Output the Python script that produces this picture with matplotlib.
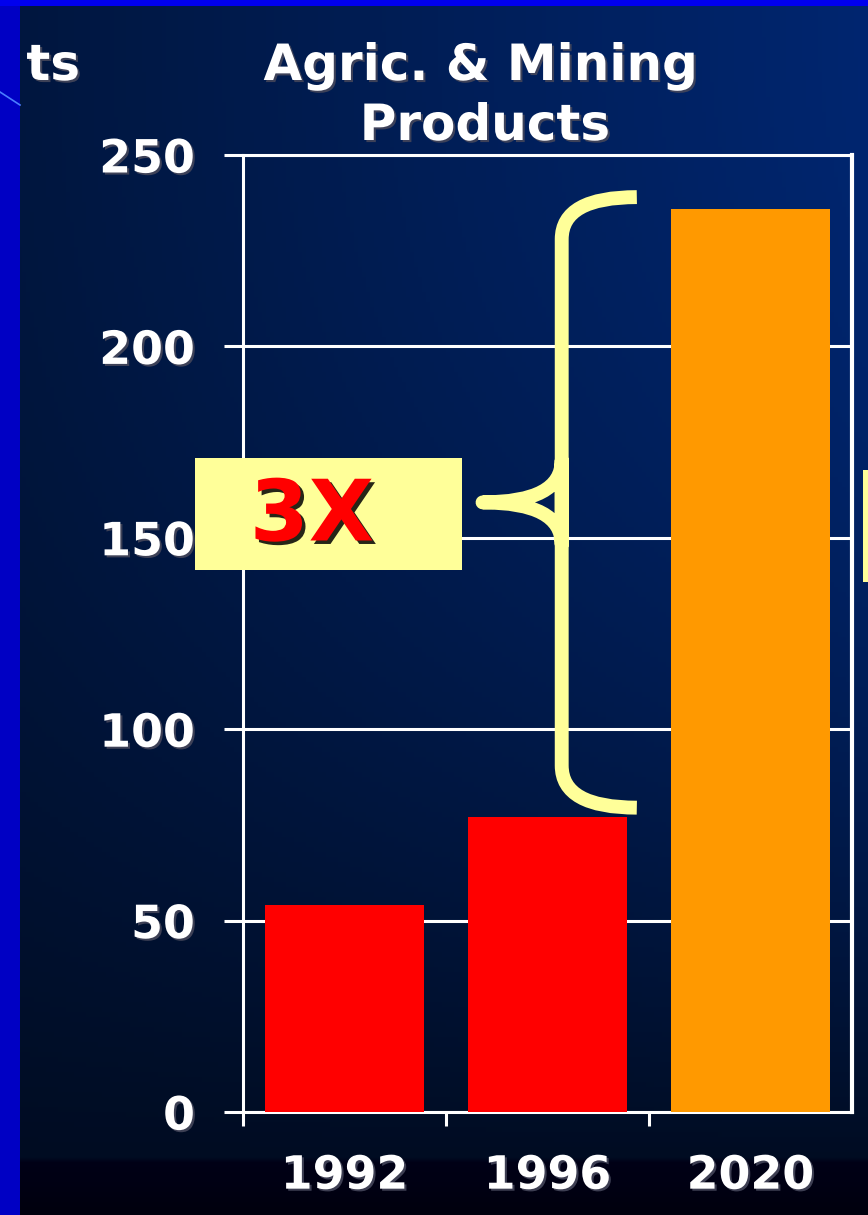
import numpy as np
import matplotlib
matplotlib.use('Agg')
import matplotlib.pyplot as plt
import matplotlib.patheffects as pe
from matplotlib.patches import Rectangle, PathPatch
from matplotlib.path import Path

# chart values
years = ['1992', '1996', '2020']
values = [54, 77, 236]
bar_colors = ['#FF0000', '#FF0000', '#FF9900']
y_ticks = [0, 50, 100, 150, 200, 250]
title_lines = ['Agric. & Mining', 'Products']
note = '3X'

W, H = 868, 1215
fig = plt.figure(figsize=(W / 100, H / 100), dpi=100)

# slide background: dark navy gradient, darker to the bottom and to the left
bg = fig.add_axes([0, 0, 1, 1], zorder=-10)
bg.axis('off')
yy, xx = np.mgrid[0:H:5, 0:W:4]
fx = xx / W
s = np.clip(yy / 1157, 0, 1) ** 2.3
top = np.stack([np.zeros_like(fx), 22 + 16 * fx, 62 + 50 * fx], axis=-1)
bottom = np.array([0, 12, 34])
img = top * (1 - s[..., None]) + bottom * s[..., None]
band = yy >= 1157
img[band] = np.array([0, 0, 24]) - np.array([0, 0, 10]) * ((yy[band] - 1157) / 58.0)[:, None]
bg.imshow(img.astype(np.uint8), extent=[0, 1, 0, 1], aspect='auto', interpolation='bilinear')
bg.set_xlim(0, 1)
bg.set_ylim(0, 1)

white_shadow = [pe.withSimplePatchShadow(offset=(1.5, -1.5), shadow_rgbFace='#44465a', alpha=0.9)]

ax = fig.add_axes([243 / W, 1 - 1112 / H, (852 - 243) / W, (1112 - 155) / H])
ax.set_facecolor('none')
x = np.arange(len(years))
ax.bar(x, values, width=0.78, color=bar_colors, zorder=3)
ax.set_xlim(-0.5, len(years) - 0.5)
ax.set_ylim(0, 250)

ax.set_yticks(y_ticks)
ax.set_yticklabels([str(v) for v in y_ticks])
ax.set_xticks(x)
ax.set_xticklabels(years)
ax.set_xticks(x - 0.5, minor=True)
ax.tick_params(axis='y', colors='white', length=13.5, width=2.2, pad=21,
               labelsize=33)
ax.tick_params(axis='x', which='major', colors='white', length=0, pad=30, labelsize=33)
ax.tick_params(axis='x', which='minor', colors='white', length=10, width=2.2)
for lab in ax.get_xticklabels() + ax.get_yticklabels():
    lab.set_fontweight('bold')
    lab.set_path_effects(white_shadow)

ax.yaxis.grid(True, color='white', linewidth=2.2)
ax.set_axisbelow(True)
for side in ['left', 'right', 'top', 'bottom']:
    ax.spines[side].set_color('white')
    ax.spines[side].set_linewidth(2.2)
ax.spines['right'].set_linewidth(3)

# curly brace from the 1996 level up to the 2020 level
b_top = values[2] + 3
b_bot = values[1] + 2.5
b_mid = (b_top + b_bot) / 2
xs, xe, xt = 1.07, 1.44, 0.68
r = 11
verts = [(xe, b_top), (xs, b_top), (xs, b_top - r),
         (xs, b_mid - r),
         (xs, b_mid), (xt, b_mid),
         (xs, b_mid), (xs, b_mid + r),
         (xs, b_bot + r),
         (xs, b_bot), (xe, b_bot)]
codes = [Path.MOVETO, Path.CURVE3, Path.CURVE3,
         Path.LINETO,
         Path.CURVE3, Path.CURVE3,
         Path.CURVE3, Path.CURVE3,
         Path.LINETO,
         Path.CURVE3, Path.CURVE3]
brace = PathPatch(Path(verts, codes), facecolor='none', edgecolor='#FFFF99',
                  linewidth=10, capstyle='butt', joinstyle='round', zorder=4)
ax.add_patch(brace)

# title, two lines
fig.text(481 / W, 1 - 80 / H, title_lines[0], ha='center', va='baseline', color='white',
         fontsize=36, fontweight='bold', path_effects=white_shadow)
fig.text(485 / W, 1 - 140 / H, title_lines[1], ha='center', va='baseline', color='white',
         fontsize=36, fontweight='bold', path_effects=white_shadow)
fig.text(80 / W, 1 - 80 / H, 'ts', ha='right', va='baseline', color='white',
         fontsize=36, fontweight='bold', path_effects=white_shadow)

# yellow note box with 3X
fig.add_artist(Rectangle((195 / W, 1 - 570 / H), 267 / W, 112 / H,
                         transform=fig.transFigure, facecolor='#FFFF99',
                         edgecolor='none', zorder=5))
fig.text(312 / W, 1 - 517 / H, note, ha='center', va='center', color='#FF0000',
         fontsize=61, fontweight='bold', zorder=6,
         path_effects=[pe.withSimplePatchShadow(offset=(2.5, -2.5), shadow_rgbFace='black', alpha=0.85)])

# neighbouring note box cut off at the right edge
fig.add_artist(Rectangle((863 / W, 1 - 582 / H), 5 / W, 112 / H,
                         transform=fig.transFigure, facecolor='#FFFF99',
                         edgecolor='none', zorder=5))

# slide frame strips
fig.add_artist(Rectangle((0, 0), 20 / W, 1, transform=fig.transFigure,
                         facecolor='#0000C4', edgecolor='none', zorder=20))
fig.add_artist(Rectangle((0, 1 - 6 / H), 1, 6 / H, transform=fig.transFigure,
                         facecolor='#0000EE', edgecolor='none', zorder=20))
fig.add_artist(plt.Line2D([0, 20 / W], [1 - 92 / H, 1 - 105 / H], transform=fig.transFigure,
                          color='#4a7dff', linewidth=1.2, zorder=21))

fig.savefig('out.png', dpi=100)
